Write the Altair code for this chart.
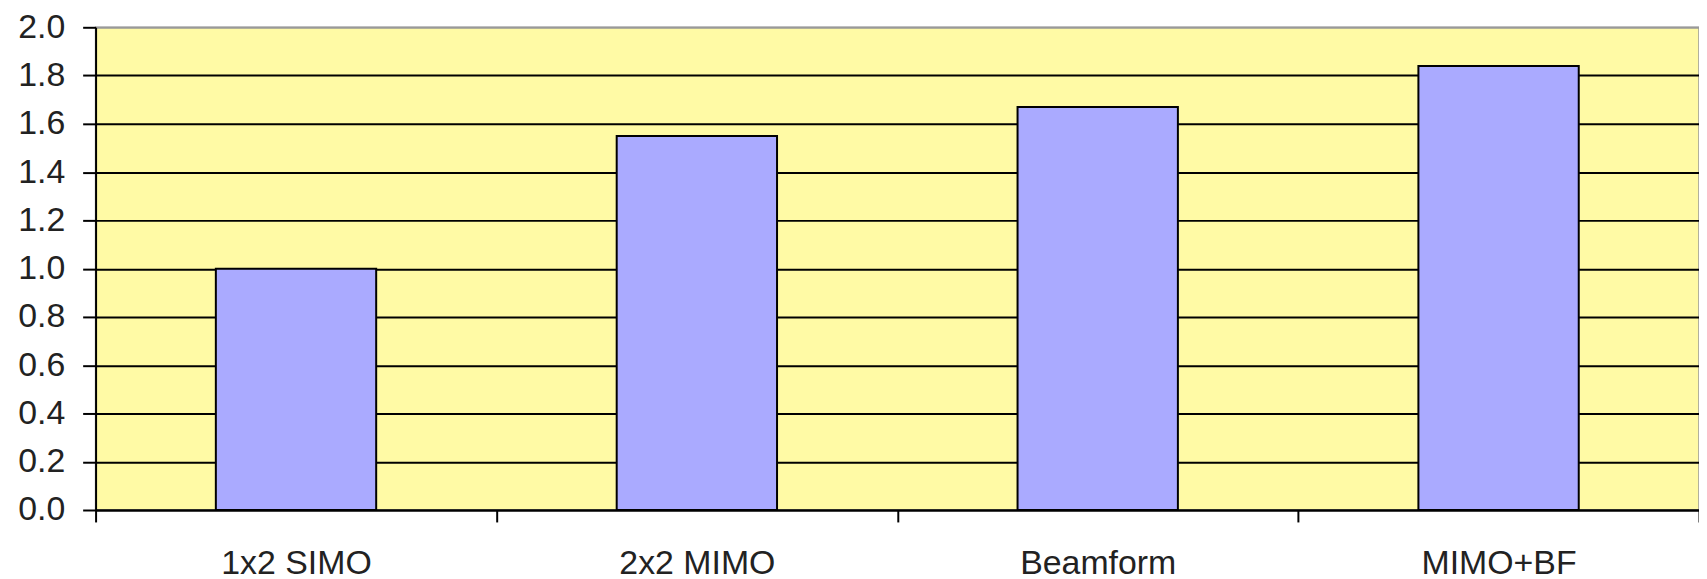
import altair as alt
import pandas as pd

categories = ["1x2 SIMO", "2x2 MIMO", "Beamform", "MIMO+BF"]
values = [1.0, 1.55, 1.67, 1.84]
y_ticks = [0.0, 0.2, 0.4, 0.6, 0.8, 1.0, 1.2, 1.4, 1.6, 1.8, 2.0]

df = pd.DataFrame({"cat": categories, "val": values})

FONT = "Liberation Sans"

chart = alt.Chart(df).mark_bar(
    color="#AAAAFF", stroke="black", strokeWidth=2,
    width=alt.RelativeBandSize(0.4)
).encode(
    x=alt.X("cat:N", sort=categories,
            scale=alt.Scale(paddingInner=0, paddingOuter=0),
            axis=alt.Axis(title=None, labelAngle=0, tickBand="extent",
                          tickSize=12, tickWidth=2, tickColor="black",
                          domainColor="black", domainWidth=2,
                          labelFontSize=34, labelFont=FONT, labelColor="#222222",
                          labelPadding=25, grid=False)),
    y=alt.Y("val:Q", scale=alt.Scale(domain=[0, 2], nice=False),
            axis=alt.Axis(title=None, values=y_ticks, format=".1f",
                          tickSize=13, tickWidth=2, tickColor="black",
                          domainColor="black", domainWidth=2,
                          labelFontSize=34, labelFont=FONT, labelColor="#222222",
                          labelPadding=18,
                          grid=True, gridWidth=2,
                          gridColor={"condition": {"test": "datum.value >= 2", "value": "#999999"},
                                     "value": "black"}))
).properties(
    width=1611, height=485,
    padding={"left": 88, "top": 18, "right": 0, "bottom": 80},
    autosize="none"
).configure_view(fill="#FFFAA5", stroke="#999999", strokeWidth=1.5)

chart.save("out.html", embed_options={"renderer": "svg", "actions": False})
